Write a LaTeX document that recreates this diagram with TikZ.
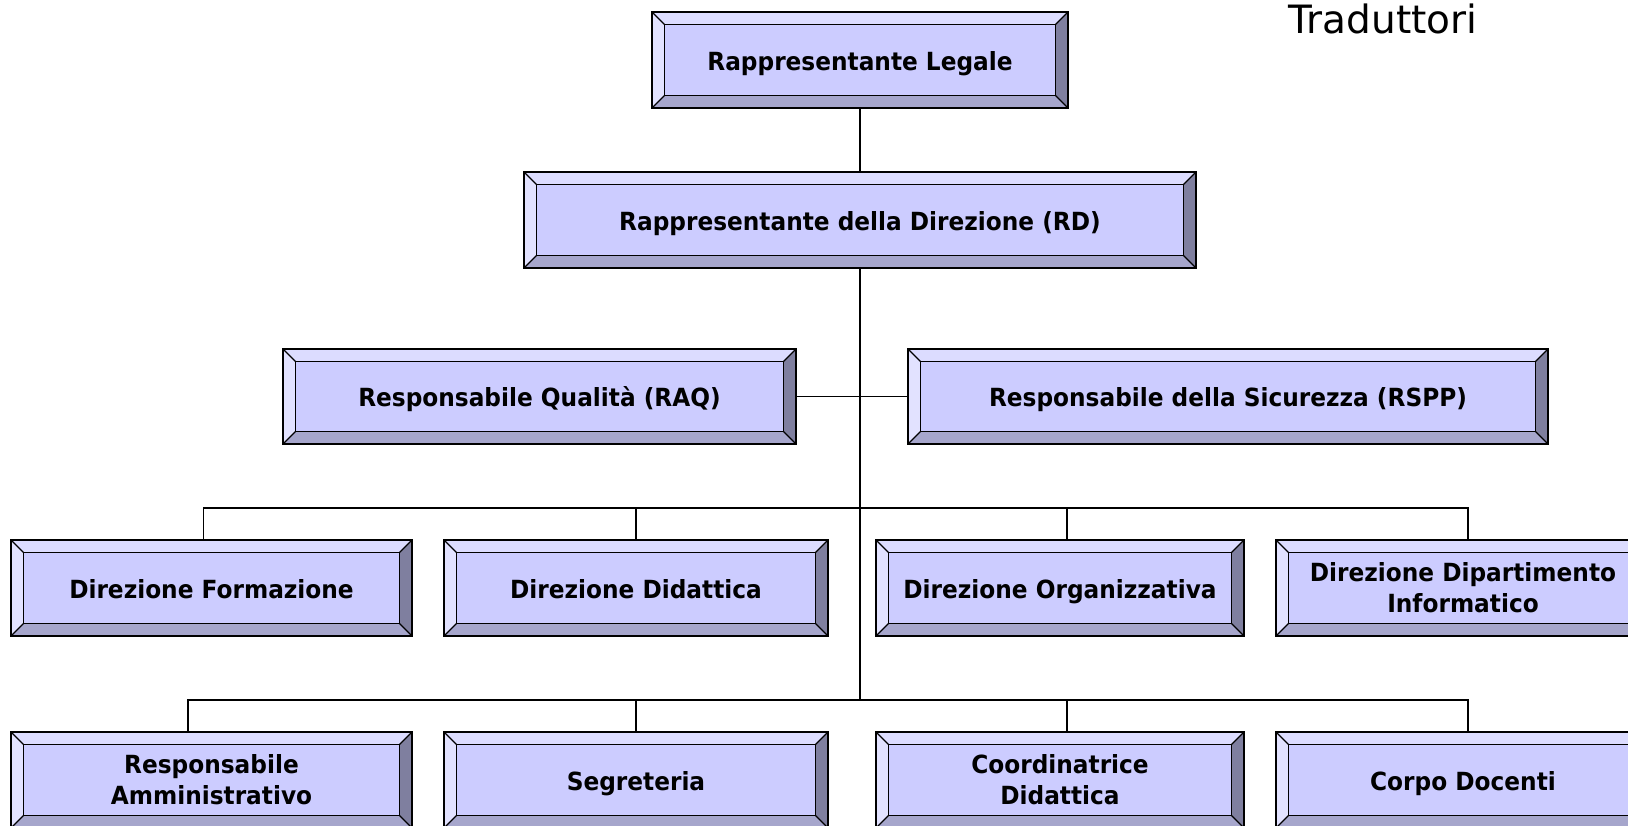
\documentclass[tikz,border=0pt]{standalone}
\usepackage{fontspec}
\setmainfont{DejaVu Sans}
\newfontfamily\boxfam{DejaVu Sans}[FakeStretch=0.93]
\usepackage{tikz}
\usepackage{xcolor}
\usetikzlibrary{shapes}

\definecolor{facecol}{HTML}{CCCCFF}
\definecolor{topcol}{HTML}{DCDCFF}
\definecolor{leftcol}{HTML}{E2E2FF}
\definecolor{botcol}{HTML}{A6A6CC}
\definecolor{rightcol}{HTML}{7F7F9F}
\newcommand{\bev}{12.5pt}
\newcommand{\boxfont}{\boxfam\bfseries\fontsize{25}{31}\selectfont}

\begin{document}
\begin{tikzpicture}[x=1pt, y=-1pt]
\tikzstyle{bevelbox} = [draw, line width=1.8pt, fill=facecol, inner sep=0pt,
	align=center, font=\boxfont, minimum height=96pt,
	path picture={
		\coordinate (bnw) at (path picture bounding box.north west);
		\coordinate (bne) at (path picture bounding box.north east);
		\coordinate (bse) at (path picture bounding box.south east);
		\coordinate (bsw) at (path picture bounding box.south west);
		\fill[topcol] (bnw) -- (bne) -- ([shift={(-\bev,-\bev)}]bne) -- ([shift={(\bev,-\bev)}]bnw) -- cycle;
		\fill[leftcol] (bnw) -- (bsw) -- ([shift={(\bev,\bev)}]bsw) -- ([shift={(\bev,-\bev)}]bnw) -- cycle;
		\fill[botcol] (bsw) -- (bse) -- ([shift={(-\bev,\bev)}]bse) -- ([shift={(\bev,\bev)}]bsw) -- cycle;
		\fill[rightcol] (bne) -- (bse) -- ([shift={(-\bev,\bev)}]bse) -- ([shift={(-\bev,-\bev)}]bne) -- cycle;
		\draw[line width=1.6pt] ([shift={(\bev,-\bev)}]bnw) rectangle ([shift={(-\bev,\bev)}]bse);
		\draw[line width=1.3pt] (bnw) -- ([shift={(\bev,-\bev)}]bnw)
			(bne) -- ([shift={(-\bev,-\bev)}]bne)
			(bse) -- ([shift={(-\bev,\bev)}]bse)
			(bsw) -- ([shift={(\bev,\bev)}]bsw);
	}]
\tikzstyle{oneline} = [text height=20pt, text depth=0pt]
\tikzstyle{link} = [line width=1.8pt]
\clip (0,0) rectangle (1628,825);
\useasboundingbox (0,0) rectangle (1628,825);

% top of the chart
\node[anchor=base west, font=\fontsize{39}{39}\selectfont] (trad) at (1285,33) {Traduttori};
\node[bevelbox, oneline, minimum width=416pt] (legal) at (860,60) {Rappresentante Legale};
\node[bevelbox, oneline, minimum width=672pt] (rd) at (860,220) {Rappresentante della Direzione (RD)};
\node[bevelbox, oneline, minimum width=513pt, minimum height=95pt] (raq) at (539.5,396.5) {Responsabile Qualità (RAQ)};
\node[bevelbox, oneline, minimum width=640pt, minimum height=95pt] (rspp) at (1228,396.5) {Responsabile della Sicurezza (RSPP)};

% directions
\node[bevelbox, oneline, minimum width=401pt] (form) at (211.5,588) {Direzione Formazione};
\node[bevelbox, oneline, minimum width=384pt] (did) at (636,588) {Direzione Didattica};
\node[bevelbox, oneline, minimum width=368pt] (org) at (1060,588) {Direzione Organizzativa};
\node[bevelbox, minimum width=374pt] (info) at (1463,588) {Direzione Dipartimento\\Informatico};

% staff
\node[bevelbox, minimum width=401pt] (amm) at (211.5,780) {Responsabile\\Amministrativo};
\node[bevelbox, oneline, minimum width=384pt] (segr) at (636,780) {Segreteria};
\node[bevelbox, minimum width=368pt] (coord) at (1060,780) {Coordinatrice\\Didattica};
\node[bevelbox, oneline, minimum width=374pt] (doc) at (1463,780) {Corpo Docenti};

\coordinate (bus3) at (860,508);
\coordinate (bus4) at (860,700);

% connectors
\draw[link] (legal) -- (rd);
\draw[link] (rd.south) -- (bus4);
\draw[link] (raq.east) -- (rspp.west);
\draw[link] ([xshift=-8pt]form.north) |- (bus3) -| ([xshift=5pt]info.north);
\draw[link] (did.north) -- (did.north |- bus3);
\draw[link] ([xshift=7pt]org.north) -- ([xshift=7pt]org.north |- bus3);
\draw[link] ([xshift=-23.5pt]amm.north) |- (bus4) -| ([xshift=5pt]doc.north);
\draw[link] (segr.north) -- (segr.north |- bus4);
\draw[link] ([xshift=7pt]coord.north) -- ([xshift=7pt]coord.north |- bus4);
\end{tikzpicture}
\end{document}
